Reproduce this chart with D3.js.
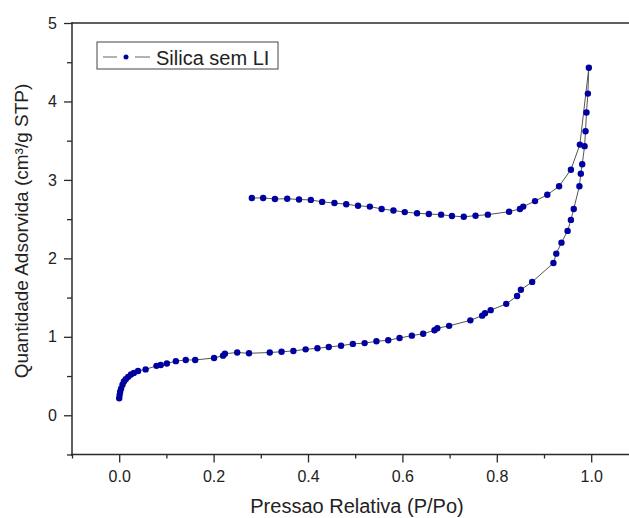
<!DOCTYPE html>
<html>
<head>
<meta charset="utf-8">
<script src="https://cdn.jsdelivr.net/npm/d3@7"></script>
<style>
  html, body { margin: 0; padding: 0; background: #fff; }
  svg { display: block; font-family: "Liberation Sans", Arial, sans-serif; }
</style>
</head>
<body>
<svg id="chart" width="629" height="518"></svg>
<script>
// ---- data ----
const seriesName = "Silica sem LI";
const xTitle = "Pressao Relativa (P/Po)";
const yTitle = "Quantidade Adsorvida (cm³/g STP)";

// adsorption branch
const adsP = [0.000,0.001,0.002,0.004,0.007,0.010,0.014,0.019,0.025,0.031,0.040,0.056,0.079,0.088,0.101,0.120,0.141,0.161,0.201,0.220,0.224,0.250,0.275,0.319,0.344,0.369,0.395,0.420,0.444,0.470,0.495,0.520,0.545,0.570,0.594,0.620,0.644,0.668,0.674,0.699,0.744,0.769,0.775,0.787,0.820,0.843,0.851,0.875,0.920,0.926,0.937,0.950,0.957,0.963,0.975,0.978,0.981,0.986,0.988,0.990,0.993,0.995];
const adsQ = [0.217,0.26,0.30,0.34,0.39,0.43,0.46,0.49,0.52,0.54,0.565,0.585,0.63,0.64,0.66,0.69,0.705,0.705,0.73,0.76,0.785,0.80,0.79,0.80,0.81,0.82,0.84,0.854,0.87,0.887,0.91,0.92,0.943,0.956,0.985,1.015,1.04,1.083,1.11,1.14,1.21,1.27,1.30,1.34,1.42,1.52,1.60,1.70,1.94,2.06,2.20,2.35,2.49,2.63,2.92,3.08,3.20,3.43,3.62,3.86,4.10,4.43];

// desorption branch
const desP = [0.976,0.957,0.932,0.907,0.881,0.856,0.849,0.826,0.781,0.755,0.730,0.705,0.682,0.656,0.631,0.605,0.581,0.556,0.531,0.506,0.481,0.456,0.430,0.406,0.381,0.356,0.330,0.305,0.281];
const desQ = [3.45,3.13,2.92,2.81,2.73,2.66,2.63,2.595,2.557,2.544,2.53,2.54,2.557,2.566,2.575,2.59,2.61,2.63,2.66,2.67,2.69,2.705,2.72,2.745,2.75,2.76,2.757,2.77,2.77];

const xMajorTicks = [0.0, 0.2, 0.4, 0.6, 0.8, 1.0];
const xMinorTicks = [-0.1, 0.1, 0.3, 0.5, 0.7, 0.9, 1.1];
const yMajorTicks = [0, 1, 2, 3, 4, 5];
const yMinorTicks = [-0.5, 0.5, 1.5, 2.5, 3.5, 4.5];

// ---- layout ----
const svg = d3.select("#chart");
const x = d3.scaleLinear().domain([-0.1, 1.1]).range([72, 638.4]);
const y = d3.scaleLinear().domain([-0.5, 5]).range([454.5, 23]);

const axisColor = "#2a2a2a";
const textColor = "#222";
const fontTick = 16;

const points = adsP.map((p, i) => ({p, q: adsQ[i]}))
  .concat(desP.map((p, i) => ({p, q: desQ[i]})));

// frame top line
svg.append("line")
  .attr("x1", x(-0.1)).attr("x2", x(1.1))
  .attr("y1", y(5)).attr("y2", y(5))
  .attr("stroke", axisColor).attr("stroke-width", 1.5);

// x axis
const xAxisG = svg.append("g").attr("transform", `translate(0,${y(-0.5)})`);
xAxisG.call(d3.axisBottom(x).tickValues(xMajorTicks).tickFormat(d3.format(".1f")).tickSize(8).tickPadding(8));
xAxisG.append("g").call(d3.axisBottom(x).tickValues(xMinorTicks).tickFormat("").tickSize(4));
xAxisG.selectAll(".domain").remove();
xAxisG.append("line").attr("x1", x(-0.1) - 1).attr("x2", x(1.1))
  .attr("stroke", axisColor).attr("stroke-width", 1.5);
xAxisG.selectAll(".tick line").attr("stroke", axisColor).attr("stroke-width", 1.3);
xAxisG.selectAll(".tick text").attr("fill", textColor)
  .style("font-size", fontTick + "px").style("font-family", "Liberation Sans, Arial, sans-serif");

// y axis
const yAxisG = svg.append("g").attr("transform", `translate(${x(-0.1)},0)`);
yAxisG.call(d3.axisLeft(y).tickValues(yMajorTicks).tickFormat(d3.format("d")).tickSize(8).tickPadding(7));
yAxisG.append("g").call(d3.axisLeft(y).tickValues(yMinorTicks).tickFormat("").tickSize(5));
yAxisG.selectAll(".domain").remove();
yAxisG.append("line").attr("y1", y(5) - 1).attr("y2", y(-0.5) + 1)
  .attr("stroke", axisColor).attr("stroke-width", 1.5);
yAxisG.selectAll(".tick line").attr("stroke", axisColor).attr("stroke-width", 1.3);
yAxisG.selectAll(".tick text").attr("fill", textColor)
  .style("font-size", fontTick + "px").style("font-family", "Liberation Sans, Arial, sans-serif");

// line + markers
const line = d3.line().x(d => x(d.p)).y(d => y(d.q));
svg.append("path").datum(points)
  .attr("d", line).attr("fill", "none")
  .attr("stroke", "#555").attr("stroke-width", 1);

svg.append("g").selectAll("circle").data(points).enter().append("circle")
  .attr("cx", d => x(d.p)).attr("cy", d => y(d.q)).attr("r", 3.2)
  .attr("fill", "#0000a0");

// axis titles
svg.append("text")
  .attr("x", 357).attr("y", 513)
  .attr("text-anchor", "middle").attr("fill", textColor)
  .style("font-size", "20px")
  .text(xTitle);

svg.append("text")
  .attr("transform", "translate(28,231) rotate(-90)")
  .attr("text-anchor", "middle").attr("fill", textColor)
  .style("font-size", "19px")
  .text(yTitle);

// legend
const lg = svg.append("g");
lg.append("rect").attr("x", 97).attr("y", 42).attr("width", 181).attr("height", 27)
  .attr("fill", "#fff").attr("stroke", "#444").attr("stroke-width", 1);
lg.append("line").attr("x1", 103).attr("x2", 117).attr("y1", 57).attr("y2", 57)
  .attr("stroke", "#666").attr("stroke-width", 1);
lg.append("line").attr("x1", 135).attr("x2", 150).attr("y1", 57).attr("y2", 57)
  .attr("stroke", "#666").attr("stroke-width", 1);
lg.append("circle").attr("cx", 126).attr("cy", 57).attr("r", 2.5).attr("fill", "#0000a0");
lg.append("text").attr("x", 156).attr("y", 64.5).attr("fill", textColor)
  .style("font-size", "20px").text(seriesName);
</script>
</body>
</html>
